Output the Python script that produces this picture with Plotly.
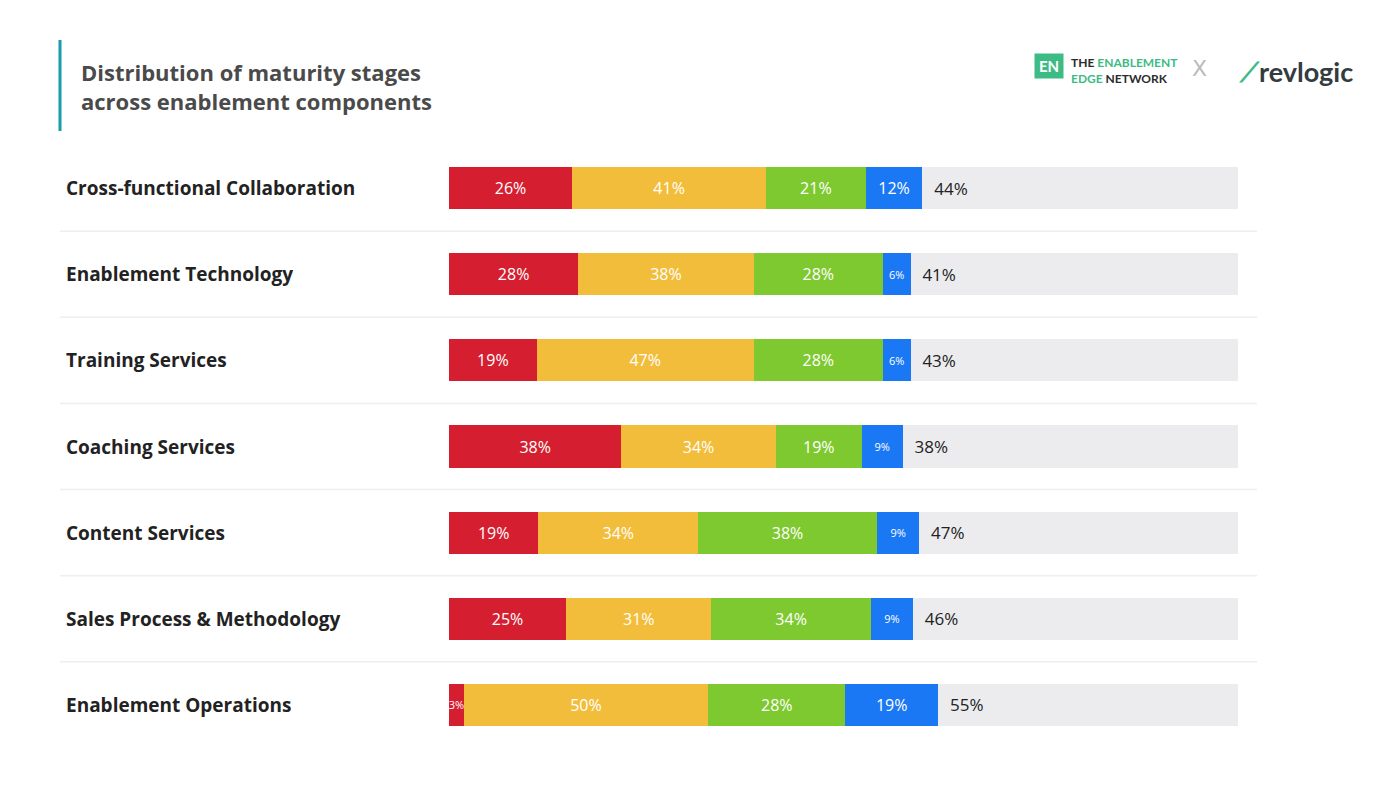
import plotly.graph_objects as go

categories = ["Cross-functional Collaboration", "Enablement Technology", "Training Services",
              "Coaching Services", "Content Services", "Sales Process & Methodology", "Enablement Operations"]
stage1 = [26, 28, 19, 38, 19, 25, 3]
stage2 = [41, 38, 47, 34, 34, 31, 50]
stage3 = [21, 28, 28, 19, 38, 34, 28]
stage4 = [12, 6, 6, 9, 9, 9, 19]
remainder_labels = [44, 41, 43, 38, 47, 46, 55]
filled_share = [60.0, 58.5, 58.5, 57.5, 59.6, 58.8, 62.0]  # colored part as % of the track

colors = ["#d51f30", "#f2bd3a", "#7ec92f", "#1a78f5"]
W, H = 1400, 788
OX, OY = 8, 8  # page body margin
def px(x): return (x - OX) / W
def py(y): return 1 - (y - OY) / H

y = list(range(len(categories)))
stages = [stage1, stage2, stage3, stage4]
totals = [sum(s[i] for s in stages) for i in y]

fig = go.Figure()
for s, col in zip(stages, colors):
    widths = [v * f / t for v, f, t in zip(s, filled_share, totals)]
    sizes = [11 if v < 10 else 16 for v in s]
    fig.add_trace(go.Bar(y=y, x=widths, orientation="h", marker=dict(color=col, line=dict(width=0)),
                         text=[f"{v}%" for v in s], textposition="inside", insidetextanchor="middle",
                         textangle=0, textfont=dict(color="white", size=sizes, family="Open Sans"),
                         width=0.49, hoverinfo="skip", constraintext="none"))
fig.add_trace(go.Bar(y=y, x=[100 - f for f in filled_share], orientation="h",
                     marker=dict(color="#ececef", line=dict(width=0)),
                     text=[f"\u00a0\u00a0{v}%" for v in remainder_labels], textposition="inside", textangle=0,
                     insidetextanchor="start", textfont=dict(color="#222", size=17, family="Open Sans"),
                     width=0.49, hoverinfo="skip"))

fig.update_layout(barmode="stack", width=W, height=H, margin=dict(l=0, r=0, t=0, b=0),
                  plot_bgcolor="white", paper_bgcolor="white", showlegend=False,
                  xaxis=dict(domain=[px(449), px(1238)], range=[0, 100], visible=False, fixedrange=True),
                  yaxis=dict(domain=[py(748), py(145)], range=[6.5, -0.5], visible=False))

for i, c in enumerate(categories):
    fig.add_annotation(x=px(64), xref="paper", y=i, yref="y", text=f"<b>{c}</b>", showarrow=False,
                       xanchor="left", font=dict(size=19, color="#222", family="Open Sans"))
for i in range(len(categories) - 1):
    fig.add_shape(type="line", xref="paper", x0=px(60), x1=px(1257), yref="y", y0=i+0.5, y1=i+0.5,
                  line=dict(color="#eeeeee", width=1.5))

fig.add_shape(type="line", xref="paper", yref="paper", x0=px(60), x1=px(60), y0=py(40), y1=py(131),
              line=dict(color="#1a9ba8", width=3))
fig.add_annotation(x=px(79), y=py(86), xref="paper", yref="paper", xanchor="left", yanchor="middle",
                   text="<b>Distribution of maturity stages<br>across enablement components</b>",
                   showarrow=False, align="left", font=dict(size=22, color="#4a4a4a", family="Open Sans"))

# logos as text
fig.add_annotation(x=px(1064), y=py(53), xref="paper", yref="paper", text="<b>EN</b>", showarrow=False,
                   bgcolor="#3dbb85", borderpad=3, width=22,
                   font=dict(size=15, color="white", family="Lato"))
fig.add_annotation(x=px(1069), y=py(53), xref="paper", yref="paper", xanchor="left", showarrow=False,
                   align="left", text="<b>THE <span style='color:#3dbb85'>ENABLEMENT</span><br><span style='color:#3dbb85'>EDGE</span> NETWORK</b>",
                   font=dict(size=12, color="#2b2b2b", family="Lato"))
fig.add_annotation(x=px(1209), y=py(54), xref="paper", yref="paper", showarrow=False, text="X",
                   font=dict(size=22, color="#bbbbbb", family="DejaVu Sans"))
fig.add_annotation(x=px(1236), y=py(53), xref="paper", yref="paper", xanchor="left", showarrow=False,
                   text="<span style='color:#3dbb85'><b>⟋</b></span><b>revlogic</b>",
                   font=dict(size=27, color="#333c3f", family="Lato"))

fig.write_html("out.html")
